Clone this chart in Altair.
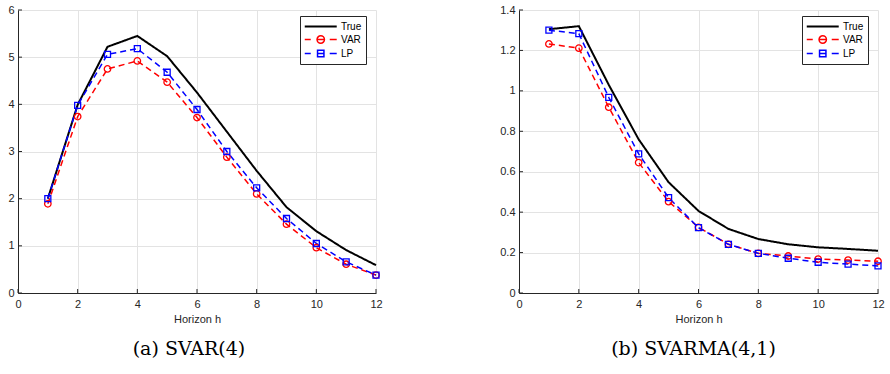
import altair as alt
import pandas as pd

# Impulse responses by horizon
horizon = list(range(1, 13))

svar_true = [2.00, 3.99, 5.22, 5.45, 5.02, 4.25, 3.42, 2.59, 1.82, 1.31, 0.91, 0.59]
svar_var = [1.89, 3.74, 4.75, 4.92, 4.47, 3.72, 2.88, 2.10, 1.46, 0.96, 0.61, 0.38]
svar_lp = [2.00, 3.98, 5.06, 5.18, 4.68, 3.89, 3.00, 2.23, 1.58, 1.05, 0.66, 0.38]

svarma_true = [1.305, 1.320, 1.03, 0.76, 0.548, 0.406, 0.317, 0.267, 0.241, 0.226, 0.218, 0.209]
svarma_var = [1.232, 1.211, 0.919, 0.645, 0.452, 0.325, 0.241, 0.196, 0.183, 0.168, 0.163, 0.157]
svarma_lp = [1.300, 1.283, 0.968, 0.688, 0.472, 0.323, 0.241, 0.196, 0.172, 0.152, 0.143, 0.134]

series_names = ["True", "VAR", "LP"]
series_colors = ["#000000", "#ff0000", "#0000ff"]

x_ticks = [0, 2, 4, 6, 8, 10, 12]
svar_y_ticks = [0, 1, 2, 3, 4, 5, 6]
svarma_y_ticks = [0, 0.2, 0.4, 0.6, 0.8, 1.0, 1.2, 1.4]

# Legend glyphs: line segment with the series marker in the middle
legend_glyphs = [
    "M-1,0.045L4.565,0.045M-1,-0.045L4.565,-0.045",
    "M-1,0L0.043,0M3.348,0L4.565,0M1.139,0L2.426,0"
    "M2.426,0A0.643,0.643 0 1,1 1.139,0A0.643,0.643 0 1,1 2.426,0",
    "M-1,0L0.043,0M3.348,0L4.565,0M1.226,0L2.339,0"
    "M1.226,-0.557L2.339,-0.557L2.339,0.557L1.226,0.557Z",
]

AXIS_GREY = "#262626"
FONT = "Liberation Sans"
H = 283


def long_table(true_vals, var_vals, lp_vals):
    rows = []
    for name, vals in zip(series_names, [true_vals, var_vals, lp_vals]):
        for h, v in zip(horizon, vals):
            rows.append({"h": h, "value": v, "series": name})
    return pd.DataFrame(rows)


def key_legend(legend_x):
    return alt.Legend(
        title=None, orient="none", legendX=legend_x, legendY=6,
        symbolSize=132, symbolStrokeWidth=1.5, labelOffset=24,
        labelFont=FONT, labelFontSize=10, labelColor="#000000",
        strokeColor=AXIS_GREY, fillColor="#ffffff", padding=4, rowPadding=0,
        symbolOpacity=1,
    )


def panel(true_vals, var_vals, lp_vals, y_ticks, y_fmt, caption, cap_dx, legend_x, axis_extent, width):
    df = long_table(true_vals, var_vals, lp_vals)
    y_max = y_ticks[-1]
    x_scale = alt.Scale(domain=[0, 12], nice=False, zero=False)
    y_scale = alt.Scale(domain=[0, y_max], nice=False)

    x_enc = alt.X(
        "h:Q", scale=x_scale, title="Horizon h",
        axis=alt.Axis(values=x_ticks, format="d", grid=True, ticks=False,
                      labelPadding=5, titlePadding=4),
    )
    y_enc = alt.Y(
        "value:Q", scale=y_scale, title=None,
        axis=alt.Axis(values=y_ticks, format=y_fmt, grid=True, ticks=False,
                      labelPadding=4, minExtent=axis_extent, maxExtent=axis_extent),
    )

    def series_line(name, color, dash, width_px):
        return alt.Chart(df).transform_filter(f"datum.series == '{name}'").mark_line(
            color=color, strokeDash=dash, strokeWidth=width_px
        ).encode(x=x_enc, y=y_enc)

    true_line = series_line("True", series_colors[0], [1, 0], 2)
    var_line = series_line("VAR", series_colors[1], [6, 4], 1.5)
    lp_line = series_line("LP", series_colors[2], [6, 4], 1.5)

    var_pts = alt.Chart(df).transform_filter("datum.series == 'VAR'").mark_point(
        shape="circle", filled=False, size=42, strokeWidth=1.3, opacity=1, color=series_colors[1]
    ).encode(x="h:Q", y="value:Q")

    lp_pts = alt.Chart(df).transform_filter("datum.series == 'LP'").mark_point(
        shape="square", filled=False, size=36, strokeWidth=1.3, opacity=1, color=series_colors[2]
    ).encode(x="h:Q", y="value:Q")

    # inward tick marks on both axes
    xt = pd.DataFrame({"t": x_ticks})
    yt = pd.DataFrame({"t": y_ticks})
    x_tick_marks = alt.Chart(xt).mark_rule(color=AXIS_GREY, strokeWidth=1).encode(
        x=alt.X("t:Q", scale=x_scale), y=alt.value(H), y2=alt.value(H - 4)
    )
    y_tick_marks = alt.Chart(yt).mark_rule(color=AXIS_GREY, strokeWidth=1).encode(
        y=alt.Y("t:Q", scale=y_scale), x=alt.value(0), x2=alt.value(4)
    )

    # legend carrier: draws nothing, supplies the colour/shape key
    key = alt.Chart(df).transform_filter("false").mark_point(filled=False, opacity=1).encode(
        x="h:Q",
        y="value:Q",
        color=alt.Color("series:N", scale=alt.Scale(domain=series_names, range=series_colors),
                        legend=key_legend(legend_x)),
        shape=alt.Shape("series:N", scale=alt.Scale(domain=series_names, range=legend_glyphs),
                        legend=key_legend(legend_x)),
    )

    return alt.layer(x_tick_marks, y_tick_marks, true_line, var_line, lp_line, var_pts, lp_pts, key).properties(
        width=width,
        height=H,
        title=alt.TitleParams(
            text=caption, orient="bottom", anchor="middle", font="DejaVu Serif",
            fontSize=19, fontWeight="normal", color="#000000", offset=16, dx=cap_dx,
        ),
    )


left = panel(svar_true, svar_var, svar_lp, svar_y_ticks, "d", "(a) SVAR(4)", -8, 282, 18, 358)
right = panel(svarma_true, svarma_var, svarma_lp, svarma_y_ticks, "~g", "(b) SVARMA(4,1)", -5, 283, 40, 359)

chart = alt.hconcat(left, right, spacing=143, bounds="flush").resolve_scale(
    color="independent", shape="independent", x="independent", y="independent"
).resolve_legend(color="independent", shape="independent").properties(
    padding={"left": 0, "top": 4, "right": 0, "bottom": 0}
).configure_view(stroke=None).configure_axis(
    labelFont=FONT, labelFontSize=11, labelColor=AXIS_GREY,
    titleFont=FONT, titleFontSize=11, titleFontWeight="normal", titleColor=AXIS_GREY,
    domainColor=AXIS_GREY, domainWidth=1, gridColor="#e3e3e3", gridWidth=1,
).configure_axisX(labelFlush=False).configure_axisY(labelFlush=False)

chart.save("out.html", embed_options={"renderer": "svg", "actions": False})
